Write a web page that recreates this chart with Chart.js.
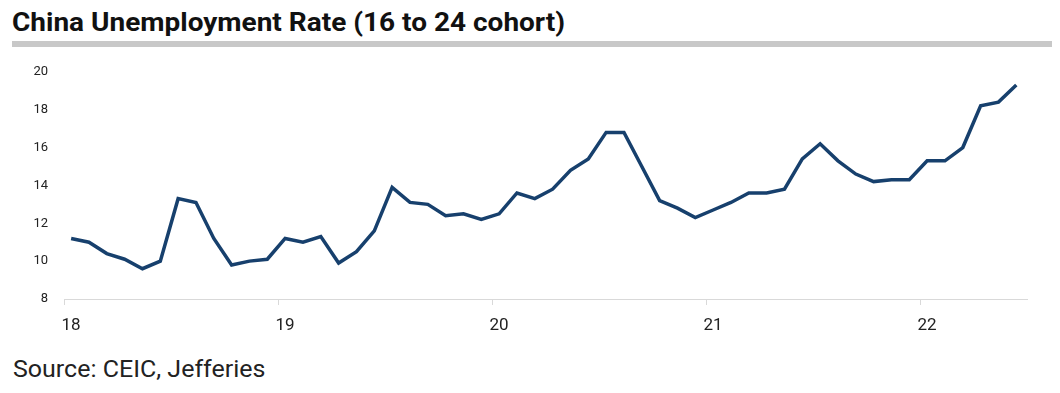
<!DOCTYPE html>
<html>
<head>
<meta charset="utf-8">
<script src="https://cdn.jsdelivr.net/npm/chart.js@4"></script>
<style>
  body { margin: 0; background: #fff; width: 1060px; height: 393px; position: relative; overflow: hidden; font-family: Roboto, sans-serif; }
  #title { position: absolute; left: 12px; top: 8px; font-size: 25px; font-weight: bold; color: #111; white-space: nowrap; transform-origin: left top; }
  #bar { position: absolute; left: 12px; top: 41px; width: 1040px; height: 6px; background: #c8c8c8; }
  #wrap { position: absolute; left: 0; top: 48px; width: 1060px; height: 291px; }
  #source { position: absolute; left: 13px; top: 355px; font-size: 24px; color: #222; white-space: nowrap; transform-origin: left top; }
</style>
</head>
<body>
<div id="title">China Unemployment Rate (16 to 24 cohort)</div>
<div id="bar"></div>
<div id="wrap"><canvas id="trendChart"></canvas></div>
<div id="source">Source: CEIC, Jefferies</div>
<script>
  // monthly, Jan 2018 - Jun 2022
  const rates = [
    11.2, 11.0, 10.4, 10.1, 9.6, 10.0, 13.3, 13.1, 11.2, 9.8, 10.0, 10.1,
    11.2, 11.0, 11.3, 9.9, 10.5, 11.6, 13.9, 13.1, 13.0, 12.4, 12.5, 12.2,
    12.5, 13.6, 13.3, 13.8, 14.8, 15.4, 16.8, 16.8, 15.0, 13.2, 12.8, 12.3,
    12.7, 13.1, 13.6, 13.6, 13.8, 15.4, 16.2, 15.3, 14.6, 14.2, 14.3, 14.3,
    15.3, 15.3, 16.0, 18.2, 18.4, 19.3
  ];
  const yearLabels = ['18', '19', '20', '21', '22'];
  const yearStarts = [0, 12, 24, 36, 48];
  const pointOffset = 0.4;

  // squeeze text to the reference widths
  function fitWidth(id, w) {
    const el = document.getElementById(id);
    el.style.transform = 'scaleX(' + (w / el.offsetWidth) + ')';
  }
  fitWidth('title', 553);
  fitWidth('source', 252);

  const ctx = document.getElementById('trendChart').getContext('2d');

  new Chart(ctx, {
    type: 'line',
    data: {
      datasets: [{
        data: rates.map((v, i) => ({ x: i + pointOffset, y: v })),
        borderColor: '#17406d',
        borderWidth: 3.5,
        pointRadius: 0,
        tension: 0,
        fill: false
      }]
    },
    options: {
      responsive: true,
      maintainAspectRatio: false,
      animation: false,
      layout: { padding: { top: 9, right: 33, left: 0, bottom: 0 } },
      plugins: { legend: { display: false }, tooltip: { enabled: false } },
      scales: {
        x: {
          type: 'linear',
          min: 0,
          max: 54,
          afterBuildTicks: axis => { axis.ticks = yearStarts.map(v => ({ value: v })); },
          afterFit: axis => { axis.height = 40; },
          grid: { drawOnChartArea: false, drawTicks: true, tickLength: 6, color: '#d9d9d9' },
          border: { color: '#d9d9d9', width: 1 },
          ticks: {
            font: { family: 'Roboto', size: 17 },
            color: '#222',
            padding: 11,
            maxRotation: 0,
            labelOffset: 7,
            callback: (v) => yearLabels[yearStarts.indexOf(v)]
          }
        },
        y: {
          min: 8,
          max: 20,
          afterFit: axis => { axis.width = 64; },
          grid: { display: false, drawTicks: false },
          border: { display: false },
          ticks: { stepSize: 2, font: { family: 'Roboto', size: 13 }, color: '#222', padding: 16 }
        }
      }
    }
  });
</script>
</body>
</html>
